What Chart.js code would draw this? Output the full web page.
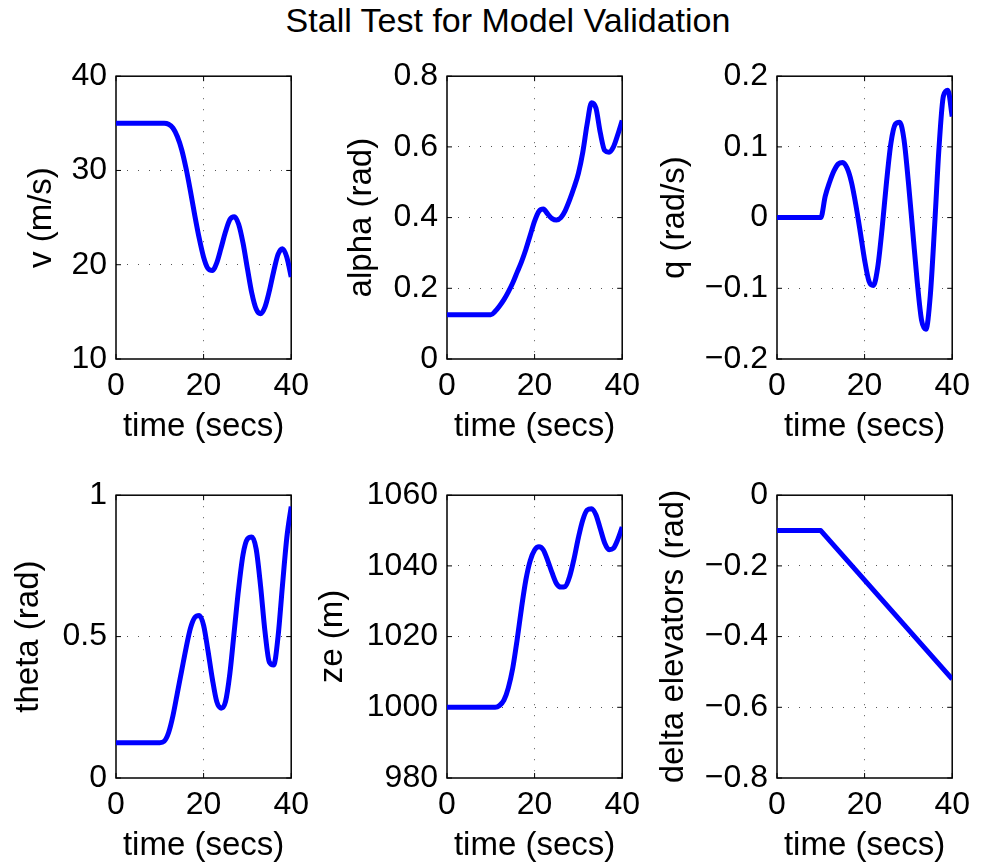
<!DOCTYPE html>
<html>
<head>
<meta charset="utf-8">
<script src="https://cdn.jsdelivr.net/npm/chart.js@4.4.1/dist/chart.umd.min.js"></script>
<style>
  body { margin: 0; background: #fff; width: 984px; height: 862px; overflow: hidden; position: relative;
         font-family: "Liberation Sans", Arial, Helvetica, sans-serif; }
  canvas { position: absolute; }
  #titre { position: absolute; left: 508px; top: 3px; transform: translateX(-50%);
           font-size: 34px; line-height: 34px; white-space: nowrap; color: #000; }
</style>
</head>
<body>
<div id="titre">Stall Test for Model Validation</div>
<canvas id="g1"></canvas>
<canvas id="g2"></canvas>
<canvas id="g3"></canvas>
<canvas id="g4"></canvas>
<canvas id="g5"></canvas>
<canvas id="g6"></canvas>
<script>
// temps (s)
const temps = [0,1,2,3,4,5,6,7,8,9,10,11,12,13,14,15,16,17,18,19,20,
               21,22,23,24,25,26,27,28,29,30,31,32,33,34,35,36,37,38,39,40];

// vitesse v (m/s)
const vitesse = [35,35,35,35,35,35,35,35,35,35,35,35,34.9,34.5,33.6,32.2,30.2,27.8,25.2,22.8,20.8,
                 19.6,19.4,20.2,21.8,23.5,24.8,25.1,24.3,22.3,19.6,17.0,15.3,14.8,15.5,17.2,19.3,21.1,21.7,20.8,18.7];
// incidence alpha (rad)
const alpha = [0.125,0.125,0.125,0.125,0.125,0.125,0.125,0.125,0.125,0.125,0.125,0.135,0.15,0.168,0.19,0.215,0.245,0.275,0.31,0.35,0.39,
               0.418,0.424,0.41,0.397,0.393,0.4,0.42,0.45,0.485,0.525,0.585,0.665,0.725,0.71,0.64,0.59,0.585,0.6,0.635,0.675];
// vitesse de tangage q (rad/s)
const tangage = [0,0,0,0,0,0,0,0,0,0,0,0.03,0.05,0.066,0.076,0.078,0.07,0.05,0.018,-0.02,-0.06,
                 -0.09,-0.096,-0.07,-0.015,0.05,0.105,0.132,0.135,0.11,0.05,-0.02,-0.09,-0.145,-0.158,-0.11,-0.01,0.1,0.172,0.18,0.143];
// assiette theta (rad)
const theta = [0.125,0.125,0.125,0.125,0.125,0.125,0.125,0.125,0.125,0.125,0.125,0.13,0.16,0.22,0.3,0.38,0.46,0.53,0.568,0.575,0.54,
               0.45,0.35,0.27,0.247,0.27,0.37,0.52,0.67,0.79,0.845,0.852,0.81,0.68,0.52,0.41,0.4,0.5,0.68,0.85,0.96];
// altitude ze (m)
const altitude = [1000,1000,1000,1000,1000,1000,1000,1000,1000,1000,1000,1000,1000.5,1002,1005.5,1011,1019,1028,1036,1041.5,1044.5,
                  1045.4,1044.5,1041.5,1038,1035,1034,1034.2,1037,1042,1048,1053,1055.8,1056.2,1054.5,1050.5,1046.5,1044.6,1045,1047.5,1051];
// gouverne de profondeur (rad)
const tempsGouverne = [0, 10, 40];
const gouverne = [-0.1, -0.1, -0.52];

// graduations
const tempsTicks = [0, 20, 40];
const vTicks = [10, 20, 30, 40];
const alphaTicks = [0, 0.2, 0.4, 0.6, 0.8];
const qTicks = [-0.2, -0.1, 0, 0.1, 0.2];
const thetaTicks = [0, 0.5, 1];
const zeTicks = [980, 1000, 1020, 1040, 1060];
const deltaTicks = [-0.8, -0.6, -0.4, -0.2, 0];

const POLICE = '"Liberation Sans", Arial, Helvetica, sans-serif';
const T_GRAD = 32, T_TITRE = 33;
const LARG_Y = 140, HAUT_X = 90, MARGE_H = 20, MARGE_D = 25;
const LARG_TRACE = 176, HAUT_TRACE = 291;

// cadre noir + petites graduations vers l'interieur (style matlab)
const cadre = {
  id: 'cadre',
  beforeDatasetsDraw(chart) {
    const { ctx, chartArea: a, scales } = chart;
    ctx.save();
    ctx.strokeStyle = '#000';
    ctx.lineWidth = 1.5;
    ctx.strokeRect(a.left, a.top, a.right - a.left, a.bottom - a.top);
    ctx.lineWidth = 1;
    ctx.beginPath();
    scales.x.ticks.forEach(t => {
      const px = scales.x.getPixelForValue(t.value);
      ctx.moveTo(px, a.bottom); ctx.lineTo(px, a.bottom - 5);
      ctx.moveTo(px, a.top); ctx.lineTo(px, a.top + 5);
    });
    scales.y.ticks.forEach(t => {
      const py = scales.y.getPixelForValue(t.value);
      ctx.moveTo(a.left, py); ctx.lineTo(a.left + 5, py);
      ctx.moveTo(a.right, py); ctx.lineTo(a.right - 5, py);
    });
    ctx.stroke();
    ctx.restore();
  }
};

function grille(ctx) {
  const n = ctx.scale.ticks.length;
  return (ctx.index === 0 || ctx.index === n - 1) ? 'rgba(0,0,0,0)' : '#555';
}

function panneau(id, boite, xs, ys, yTicks, titreY, titreYx, lisse) {
  const cv = document.getElementById(id);
  const w = LARG_Y + LARG_TRACE + MARGE_D, h = MARGE_H + HAUT_TRACE + HAUT_X;
  const gauche = boite.x - LARG_Y;
  cv.width = w; cv.height = h;
  cv.style.width = w + 'px'; cv.style.height = h + 'px';
  cv.style.left = gauche + 'px';
  cv.style.top = (boite.y - MARGE_H) + 'px';

  new Chart(cv, {
    type: 'line',
    data: {
      datasets: [{
        data: xs.map((t, i) => ({ x: t, y: ys[i] })),
        borderColor: '#0000ff',
        borderWidth: 5,
        pointRadius: 0,
        cubicInterpolationMode: lisse ? 'monotone' : 'default',
        tension: 0,
        borderJoinStyle: 'round'
      }]
    },
    options: {
      responsive: false,
      animation: false,
      devicePixelRatio: 1,
      layout: { padding: { left: 0, top: MARGE_H, right: MARGE_D, bottom: 0 } },
      plugins: { legend: { display: false }, tooltip: { enabled: false } },
      scales: {
        x: {
          type: 'linear',
          min: tempsTicks[0], max: tempsTicks[tempsTicks.length - 1],
          afterBuildTicks: s => { s.ticks = tempsTicks.map(v => ({ value: v })); },
          afterFit: s => { s.height = HAUT_X; },
          border: { display: false, dash: [1, 10] },
          grid: { color: grille, lineWidth: 1, drawTicks: false },
          ticks: { color: '#000', font: { family: POLICE, size: T_GRAD }, padding: 8, maxRotation: 0,
                   callback: v => String(v) },
          title: { display: true, text: 'time (secs)', color: '#000',
                   font: { family: POLICE, size: T_TITRE }, padding: { top: 0, bottom: 2 } }
        },
        y: {
          type: 'linear',
          min: yTicks[0], max: yTicks[yTicks.length - 1],
          afterBuildTicks: s => { s.ticks = yTicks.map(v => ({ value: v })); },
          afterFit: s => { s.width = LARG_Y; },
          border: { display: false, dash: [1, 10] },
          grid: { color: grille, lineWidth: 1, drawTicks: false },
          ticks: { color: '#000', font: { family: POLICE, size: T_GRAD }, padding: 9,
                   callback: v => String(v).replace('-', '\u2212') },
          title: { display: true, text: titreY, color: '#000',
                   font: { family: POLICE, size: T_TITRE },
                   padding: { top: titreYx - gauche - T_TITRE * 0.6, bottom: 0 } }
        }
      }
    },
    plugins: [cadre]
  });
}

panneau('g1', { x: 116, y: 68 },  temps, vitesse,  vTicks,     'v (m/s)',               42, true);
panneau('g2', { x: 447, y: 68 },  temps, alpha,    alphaTicks, 'alpha (rad)',           362, true);
panneau('g3', { x: 777, y: 68 },  temps, tangage,  qTicks,     'q (rad/s)',             675, true);
panneau('g4', { x: 116, y: 487 }, temps, theta,    thetaTicks, 'theta (rad)',           29, true);
panneau('g5', { x: 447, y: 487 }, temps, altitude, zeTicks,    'ze (m)',                333, true);
panneau('g6', { x: 777, y: 487 }, tempsGouverne, gouverne, deltaTicks, 'delta elevators (rad)', 674, false);
</script>
</body>
</html>
